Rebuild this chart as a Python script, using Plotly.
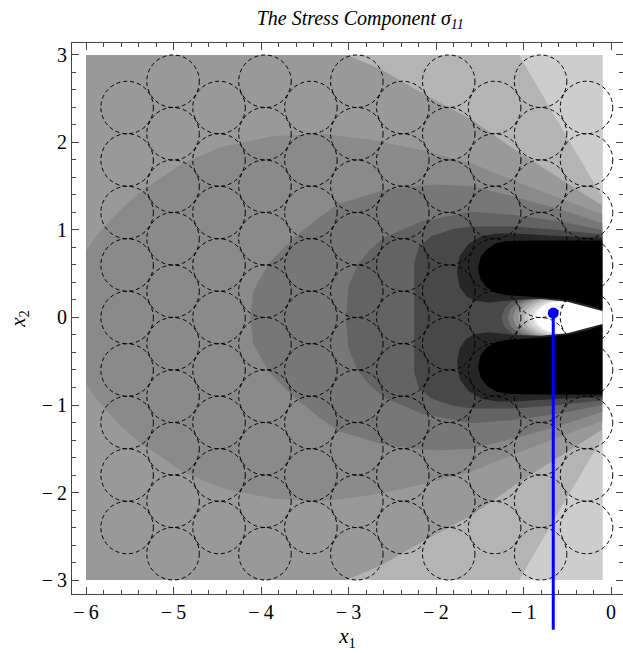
import plotly.graph_objects as go

# ---------------- data ----------------
x1_domain = [-6.0, -0.1]
x2_domain = [-3.0, 3.0]
x1_range = [-6.16, 0.137]
x2_range = [-3.16, 3.137]

# gray shade of each band (0-255)
shade = {"bg": 153, "b07": 180, "b08": 205, "b05": 138, "b04": 119, "b03": 99,
         "b02": 72, "b01": 38, "b00": 0}

# top-right light bands (upper half; mirrored for lower half), closed via the right edge
band_07 = [(-3.02, 3.0), (-2.62, 2.83), (-2.08, 2.52), (-1.59, 2.26), (-1.09, 1.91), (-0.6, 1.6), (-0.1, 1.28)]
band_08 = [(-1.05, 3.0), (-0.58, 2.19), (-0.1, 1.38)]

# dark nested regions (upper half boundary from axis/left edge to right edge)
band_05 = [(-6.0, 0.0), (-6.0, 0.76), (-5.87, 0.95), (-5.62, 1.22), (-5.40, 1.42), (-4.90, 1.76),
           (-4.45, 1.95), (-3.87, 2.07), (-3.30, 2.10), (-2.73, 2.03), (-2.16, 1.91), (-1.59, 1.76),
           (-1.10, 1.56), (-0.60, 1.37), (-0.10, 1.18)]
band_04 = [(-4.12, 0.0), (-4.09, 0.30), (-3.91, 0.62), (-3.65, 0.89), (-3.35, 1.13), (-3.11, 1.30),
           (-2.54, 1.47), (-2.00, 1.52), (-1.59, 1.50), (-1.10, 1.38), (-0.60, 1.24), (-0.10, 1.08)]
band_03 = [(-3.03, 0.0), (-3.00, 0.35), (-2.90, 0.60), (-2.75, 0.78), (-2.58, 0.92), (-2.16, 1.10),
           (-1.59, 1.21), (-1.10, 1.17), (-0.60, 1.10), (-0.10, 1.00)]
band_02 = [(-2.25, 0.0), (-2.25, 0.62), (-2.20, 0.80), (-2.05, 0.93), (-1.80, 1.01), (-1.59, 1.04),
           (-1.10, 1.04), (-0.60, 1.00), (-0.10, 0.95)]

# bright blob around the tip (upper half profiles): shade -> boundary
blob = [
    (95, [(-1.25, 0.0), (-1.22, 0.10), (-1.15, 0.17), (-1.00, 0.23), (-0.70, 0.26), (-0.10, 0.20)]),
    (120, [(-1.18, 0.0), (-1.15, 0.095), (-1.08, 0.16), (-0.95, 0.22), (-0.70, 0.25), (-0.10, 0.18)]),
    (145, [(-1.12, 0.0), (-1.09, 0.09), (-1.02, 0.155), (-0.90, 0.21), (-0.70, 0.24), (-0.10, 0.15)]),
    (170, [(-1.06, 0.0), (-1.03, 0.09), (-0.96, 0.15), (-0.85, 0.20), (-0.65, 0.23), (-0.10, 0.13)]),
    (195, [(-1.00, 0.0), (-0.97, 0.085), (-0.90, 0.145), (-0.80, 0.19), (-0.60, 0.215), (-0.10, 0.11)]),
    (215, [(-0.95, 0.0), (-0.92, 0.08), (-0.85, 0.14), (-0.75, 0.18), (-0.58, 0.20), (-0.30, 0.16), (-0.10, 0.09)]),
    (235, [(-0.90, 0.0), (-0.87, 0.075), (-0.80, 0.135), (-0.70, 0.175), (-0.55, 0.19), (-0.30, 0.15), (-0.10, 0.08)]),
    (255, [(-0.87, 0.0), (-0.84, 0.075), (-0.78, 0.13), (-0.68, 0.17), (-0.55, 0.185), (-0.40, 0.165),
           (-0.25, 0.125), (-0.10, 0.075)]),
]

# lobes (upper lobe outline; lower lobe is the mirror)
ring_01 = [(-1.76, 0.52), (-1.73, 0.70), (-1.63, 0.84), (-1.48, 0.93), (-1.30, 0.96), (-1.10, 0.96),
           (-0.60, 0.93), (-0.10, 0.91), (-0.10, 0.075), (-0.30, 0.13), (-0.50, 0.18), (-0.80, 0.21),
           (-1.10, 0.20), (-1.40, 0.17), (-1.55, 0.19), (-1.65, 0.24), (-1.73, 0.35)]
lobe_00 = [(-1.52, 0.56), (-1.49, 0.69), (-1.42, 0.78), (-1.31, 0.85), (-1.18, 0.87), (-0.90, 0.88),
           (-0.50, 0.88), (-0.10, 0.88), (-0.10, 0.085), (-0.25, 0.14), (-0.45, 0.19), (-0.70, 0.22),
           (-0.95, 0.24), (-1.18, 0.255), (-1.31, 0.28), (-1.42, 0.34), (-1.49, 0.43)]

# dashed circles (hexagonal arrangement)
circle_cols_even = [-5.53, -4.48, -3.43, -2.38, -1.33, -0.28]
circle_cols_odd = [-5.005, -3.955, -2.905, -1.855, -0.805]
circle_rows_even = [-2.4, -1.8, -1.2, -0.6, 0.0, 0.6, 1.2, 1.8, 2.4]
circle_rows_odd = [-2.7, -2.1, -1.5, -0.9, -0.3, 0.3, 0.9, 1.5, 2.1, 2.7]
circle_radius = 0.3

# marked point and the end of its leader line (paper units, below the frame)
point_x1 = [-0.66]
point_x2 = [0.05]
leader_end_paper = -0.065

x_ticks = [-6, -5, -4, -3, -2, -1, 0]
x_ticktext = ["\u2212\u20096", "\u2212\u20095", "\u2212\u20094", "\u2212\u20093", "\u2212\u20092", "\u2212\u20091", "0"]
y_ticks = [-3, -2, -1, 0, 1, 2, 3]
y_ticktext = ["\u2212\u20093", "\u2212\u20092", "\u2212\u20091", "0", "1", "2", "3"]

# ---------------- helpers ----------------
def gray(g):
    return f"rgb({g},{g},{g})"

def mirrored_closed(upper):
    xs = [p[0] for p in upper] + [p[0] for p in reversed(upper)]
    ys = [p[1] for p in upper] + [-p[1] for p in reversed(upper)]
    return xs, ys

def poly(xs, ys, g):
    return go.Scatter(x=xs, y=ys, mode="lines", line=dict(width=0), fill="toself",
                      fillcolor=gray(g), hoverinfo="skip", showlegend=False)

fig = go.Figure()

# background band
fig.add_trace(poly([x1_domain[0], x1_domain[1], x1_domain[1], x1_domain[0]],
                   [x2_domain[0], x2_domain[0], x2_domain[1], x2_domain[1]], shade["bg"]))

# top-right light bands
for band, key in ((band_07, "b07"), (band_08, "b08")):
    for s in (1, -1):
        xs = [p[0] for p in band] + [x1_domain[1]]
        ys = [s * p[1] for p in band] + [s * x2_domain[1]]
        fig.add_trace(poly(xs, ys, shade[key]))

# dark nested bands
for band, key in ((band_05, "b05"), (band_04, "b04"), (band_03, "b03"), (band_02, "b02")):
    xs, ys = mirrored_closed(band)
    fig.add_trace(poly(xs, ys, shade[key]))

# bright blob
for g, prof in blob:
    xs, ys = mirrored_closed(prof)
    fig.add_trace(poly(xs, ys, g))

# lobes
for outline, key in ((ring_01, "b01"), (lobe_00, "b00")):
    for s in (1, -1):
        fig.add_trace(poly([p[0] for p in outline], [s * p[1] for p in outline], shade[key]))

# dashed circles
shapes = []
for cols, rows in ((circle_cols_even, circle_rows_even), (circle_cols_odd, circle_rows_odd)):
    for cx in cols:
        for cy in rows:
            shapes.append(dict(type="circle", xref="x", yref="y",
                               x0=cx - circle_radius, x1=cx + circle_radius,
                               y0=cy - circle_radius, y1=cy + circle_radius,
                               line=dict(color="black", width=1, dash="4px,3px"), layer="above"))

# leader line from the marked point down past the frame (clipped in x only)
point_paper_y = (point_x2[0] - x2_range[0]) / (x2_range[1] - x2_range[0])
shapes.append(dict(type="line", xref="x", yref="paper",
                   x0=point_x1[0], x1=point_x1[0], y0=point_paper_y, y1=leader_end_paper,
                   line=dict(color="#0000ff", width=3), layer="above"))

# marked point
fig.add_trace(go.Scatter(x=point_x1, y=point_x2, mode="markers",
                         marker=dict(color="#0000ff", size=11), cliponaxis=False,
                         hoverinfo="skip", showlegend=False))

serif = "Liberation Serif, Times New Roman, serif"
axis_common = dict(showline=True, linecolor="#444444", linewidth=1, mirror="ticks",
                   ticks="inside", ticklen=7, tickwidth=1, tickcolor="#444444",
                   showgrid=False, zeroline=False,
                   tickfont=dict(family=serif, size=20, color="black"),
                   minor=dict(tick0=0, dtick=0.2, ticks="inside", ticklen=4, tickwidth=1,
                              tickcolor="#444444", showgrid=False))

fig.update_layout(
    width=623, height=653,
    margin=dict(l=72, r=0, t=43, b=59),
    paper_bgcolor="white", plot_bgcolor="white",
    showlegend=False,
    shapes=shapes,
    title=dict(text="<i>The Stress Component σ<sub>11</sub></i>",
               x=0.523, xref="paper", xanchor="center",
               y=0.972, yref="container", yanchor="middle",
               font=dict(family=serif, size=20, color="black")),
    xaxis=dict(range=x1_range, tickmode="array", tickvals=x_ticks, ticktext=x_ticktext,
               title=dict(text="<i>x</i><sub>1</sub>", standoff=6,
                          font=dict(family=serif, size=21, color="black")),
               **axis_common),
    yaxis=dict(range=x2_range, tickmode="array", tickvals=y_ticks, ticktext=y_ticktext,
               title=dict(text="<i>x</i><sub>2</sub>", standoff=10,
                          font=dict(family=serif, size=21, color="black")),
               **axis_common),
)

fig.write_html("out.html")
